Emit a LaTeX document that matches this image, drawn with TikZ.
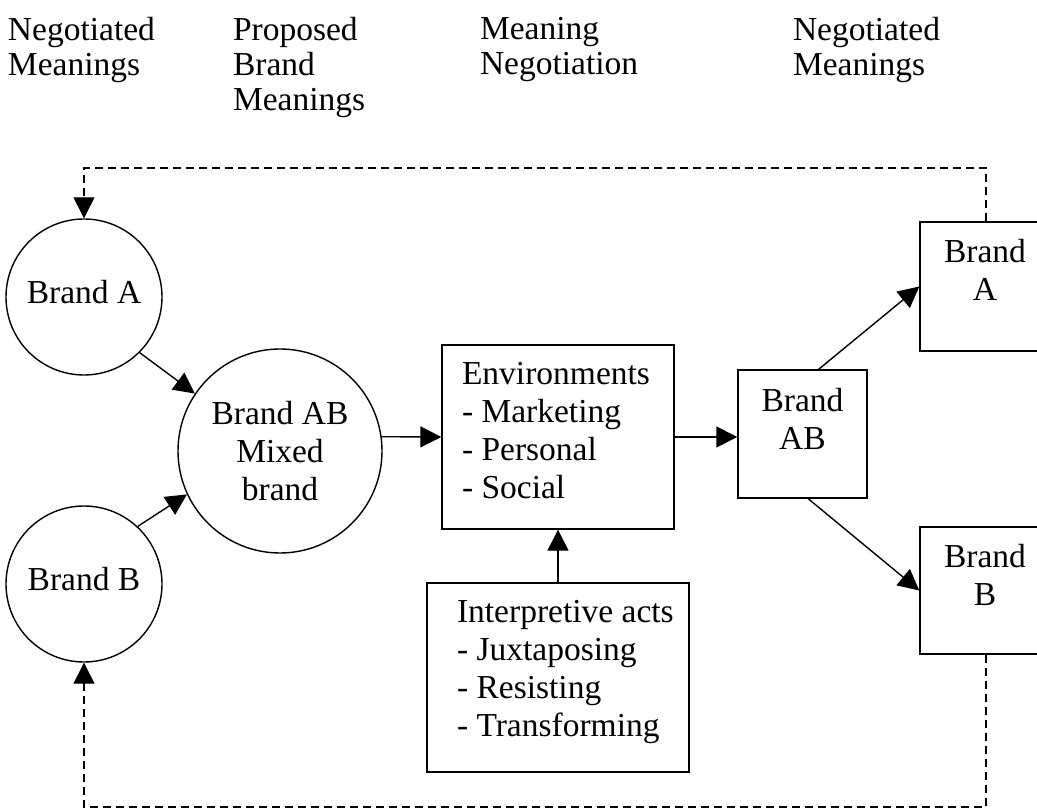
\documentclass[tikz,border=0pt]{standalone}
\usepackage{fontspec}
\setmainfont{Liberation Serif}
\usetikzlibrary{arrows.meta,calc}
\begin{document}
\begin{tikzpicture}[x=1pt,y=-1pt,
  every node/.style={font=\fontsize{33.5}{38}\selectfont},
  circ/.style={draw,circle,line width=1.4pt,inner sep=0pt,align=center},
  boxx/.style={draw,rectangle,line width=1.4pt,inner sep=0pt},
  txt/.style={inner sep=0pt,outer sep=0pt},
  toptxt/.style={inner sep=0pt,outer sep=0pt,align=left,anchor=north west,font=\fontsize{33.5}{35}\selectfont},
  conn/.style={line width=1.4pt,-{Triangle[length=21pt,width=21pt]}},
  dconn/.style={line width=1.4pt,dash pattern=on 8pt off 5pt,-{Triangle[length=21pt,width=21pt]}}
]
\useasboundingbox (0,0) rectangle (1037,810);
\fill[white] (0,0) rectangle (1037,810);

% top labels
\node[toptxt] (l1) at (8,17) {Negotiated\\Meanings};
\node[toptxt] (l2) at (233,17) {Proposed\\Brand\\Meanings};
\node[toptxt] (l3) at (480,17) {Meaning\\Negotiation};
\node[toptxt] (l4) at (793,17) {Negotiated\\Meanings};

% circles
\node[circ,minimum size=156pt] (A) at (84,297) {};
\node[txt] (AT) at (84,292) {Brand A};
\node[circ,minimum size=156pt] (B) at (84,584) {};
\node[txt] (BT) at (84,579) {Brand B};
\node[circ,minimum size=204pt] (AB) at (280,451) {Brand AB\\Mixed\\brand};

% environments box
\node[boxx,minimum width=232pt,minimum height=184pt] (Env) at (558,437) {};
\node[txt,align=left,anchor=north west] (EnvT) at (462,362) {Environments\\- Marketing\\- Personal\\- Social};

% interpretive acts box
\node[boxx,minimum width=262pt,minimum height=189pt] (Int) at (558,677.5) {};
\node[txt,align=left,anchor=north west] (IntT) at (457,600) {Interpretive acts\\- Juxtaposing\\- Resisting\\- Transforming};

% Brand AB box
\node[boxx,minimum width=129pt,minimum height=128pt] (ABb) at (802.5,434) {};
\node[txt,align=center,anchor=north] (ABbT) at (802.5,388) {Brand\\AB};

% Brand A box and Brand B box (cut by the right edge)
\node[boxx,minimum width=132pt,minimum height=129pt] (Ab) at (986,286.5) {};
\node[txt,align=center,anchor=north] (AbT) at (985,239) {Brand\\A};
\node[boxx,minimum width=132pt,minimum height=127pt] (Bb) at (986,590.5) {};
\node[txt,align=center,anchor=north] (BbT) at (985,544) {Brand\\B};

% connectors
\draw[conn] (A.-45) -- (AB.146);
\draw[conn] (B.47) -- (AB.205);
\draw[conn] (AB.8) -- (Env.west);
\draw[conn] (Int.north) -- (Env.south);
\draw[conn] (Env.east) -- (Env.east -| ABb.west);
\draw[conn] (ABb.76) -- (Ab.west);
\draw[conn] (ABb.-85) -- (Bb.west);

% feedback loops
\coordinate (topY) at (0,168);
\coordinate (botY) at (0,807);
\draw[dconn] (Ab.north) -- (Ab.north |- topY) -| (A.north);
\draw[dconn] (Bb.south) -- (Bb.south |- botY) -| (B.south);
\end{tikzpicture}
\end{document}
